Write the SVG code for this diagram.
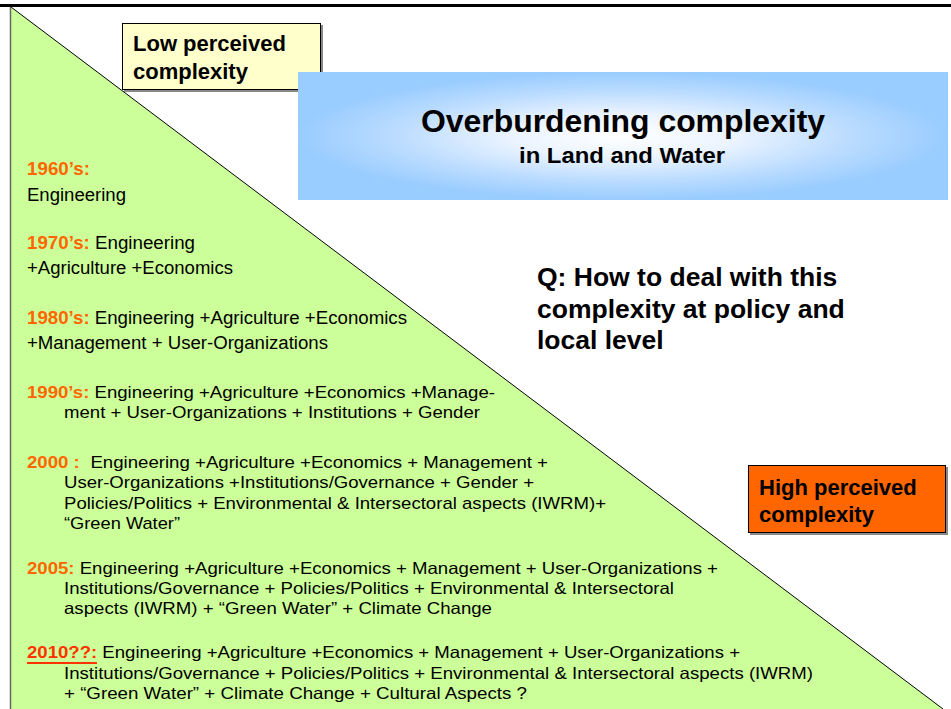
<svg xmlns="http://www.w3.org/2000/svg" width="951" height="709" viewBox="0 0 951 709">
<style>
.t{font-family:"Liberation Sans",Arial,sans-serif;font-size:18px;fill:#000}
.m{font-family:"Liberation Sans",Arial,sans-serif;font-size:17px;fill:#000}
.s{font-family:"Liberation Sans",Arial,sans-serif;font-size:16.5px;fill:#000}
.yr{font-weight:bold;fill:#FF6600}
.b{font-family:"Liberation Sans",Arial,sans-serif;font-weight:bold;fill:#000}
</style>
<defs>
<radialGradient id="blue" cx="0.5" cy="0.5" r="0.5">
<stop offset="0" stop-color="#FFFFFF"/>
<stop offset="0.35" stop-color="#EAF3FF"/>
<stop offset="0.7" stop-color="#BBDCFF"/>
<stop offset="1" stop-color="#99CCFF"/>
</radialGradient>
</defs>
<rect width="951" height="709" fill="#FFFFFF"/>
<g id="triangle">
<polygon points="11,7 943,709 11,709" fill="#CCFF99"/>
<line x1="11" y1="7" x2="943" y2="709" stroke="#000" stroke-width="1"/>
<line x1="10.5" y1="7" x2="10.5" y2="709" stroke="#666" stroke-width="1.5"/>
</g>
<line x1="0" y1="5.5" x2="951" y2="5.5" stroke="#000" stroke-width="3"/>
<g id="low-box">
<rect x="124" y="25" width="199" height="67" fill="#888"/>
<rect x="122.5" y="23.5" width="198" height="66" fill="#FFFFCC" stroke="#000" stroke-width="1"/>
<text class="b" x="133" y="51" font-size="22">Low perceived</text>
<text class="b" x="133" y="79" font-size="22">complexity</text>
</g>
<g id="title-box">
<rect x="298" y="72" width="650" height="128" fill="url(#blue)"/>
<text class="b" x="623" y="132" font-size="30.5" text-anchor="middle" textLength="404" lengthAdjust="spacingAndGlyphs">Overburdening complexity</text>
<text class="b" x="622" y="163" font-size="22" text-anchor="middle" textLength="206" lengthAdjust="spacingAndGlyphs">in Land and Water</text>
</g>
<g id="question">
<text class="b" x="537" y="286" font-size="26.5">Q: How to deal with this</text>
<text class="b" x="537" y="317.5" font-size="26.5">complexity at policy and</text>
<text class="b" x="537" y="349" font-size="26.5">local level</text>
</g>
<g id="high-box">
<rect x="750" y="467" width="198" height="68" fill="#888"/>
<rect x="748.5" y="465.5" width="197" height="67" fill="#FF6600" stroke="#000" stroke-width="1"/>
<text class="b" x="759" y="495" font-size="22">High perceived</text>
<text class="b" x="759" y="522" font-size="22">complexity</text>
</g>
<g id="timeline">
<text class="t" x="27" y="175" textLength="63" lengthAdjust="spacingAndGlyphs"><tspan class="yr">1960’s:</tspan></text>
<text class="t" x="27" y="201" textLength="99" lengthAdjust="spacingAndGlyphs">Engineering</text>
<text class="t" x="27" y="249" textLength="168" lengthAdjust="spacingAndGlyphs"><tspan class="yr">1970’s:</tspan> Engineering</text>
<text class="t" x="27" y="274" textLength="206" lengthAdjust="spacingAndGlyphs">+Agriculture +Economics</text>
<text class="t" x="27" y="324" textLength="380" lengthAdjust="spacingAndGlyphs"><tspan class="yr">1980’s:</tspan> Engineering +Agriculture +Economics</text>
<text class="t" x="27" y="349" textLength="301" lengthAdjust="spacingAndGlyphs">+Management + User-Organizations</text>
<text class="m" x="27" y="398" textLength="468" lengthAdjust="spacingAndGlyphs"><tspan class="yr">1990’s:</tspan> Engineering +Agriculture +Economics +Manage-</text>
<text class="m" x="64" y="418" textLength="416" lengthAdjust="spacingAndGlyphs">ment + User-Organizations + Institutions + Gender</text>
<text class="m" x="27" y="468" textLength="521" lengthAdjust="spacingAndGlyphs"><tspan class="yr">2000 :</tspan><tspan dx="5"> Engineering +Agriculture +Economics + Management +</tspan></text>
<text class="m" x="64" y="488" textLength="470" lengthAdjust="spacingAndGlyphs">User-Organizations +Institutions/Governance + Gender +</text>
<text class="m" x="64" y="509" textLength="542" lengthAdjust="spacingAndGlyphs">Policies/Politics + Environmental &amp; Intersectoral aspects (IWRM)+</text>
<text class="m" x="64" y="529" textLength="116" lengthAdjust="spacingAndGlyphs">“Green Water”</text>
<text class="s" x="27" y="574" textLength="691" lengthAdjust="spacingAndGlyphs"><tspan class="yr">2005:</tspan> Engineering +Agriculture +Economics + Management + User-Organizations +</text>
<text class="s" x="64" y="594" textLength="610" lengthAdjust="spacingAndGlyphs">Institutions/Governance + Policies/Politics + Environmental &amp; Intersectoral</text>
<text class="s" x="64" y="614" textLength="428" lengthAdjust="spacingAndGlyphs">aspects (IWRM) + “Green Water” + Climate Change</text>
<text class="s" x="27" y="658" textLength="713" lengthAdjust="spacingAndGlyphs"><tspan class="yr" style="fill:#FF3300">2010??:</tspan> Engineering +Agriculture +Economics + Management + User-Organizations +</text>
<line x1="27" y1="663" x2="97" y2="663" stroke="#FF3300" stroke-width="2"/>
<text class="s" x="64" y="679" textLength="749" lengthAdjust="spacingAndGlyphs">Institutions/Governance + Policies/Politics + Environmental &amp; Intersectoral aspects (IWRM)</text>
<text class="s" x="64" y="699" textLength="463" lengthAdjust="spacingAndGlyphs">+ “Green Water” + Climate Change + Cultural Aspects ?</text>
</g>
</svg>
